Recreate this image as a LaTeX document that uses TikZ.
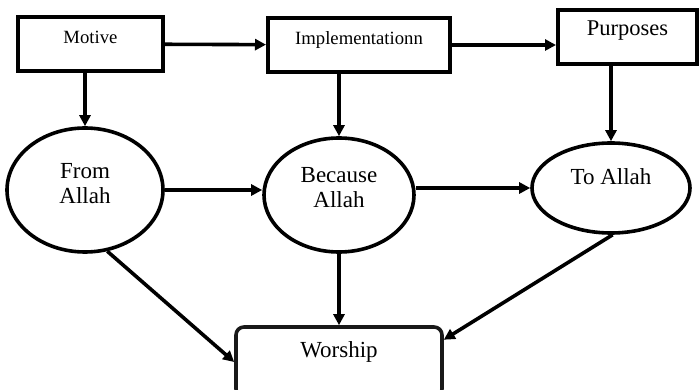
\documentclass[tikz,border=0pt]{standalone}
\usepackage{fontspec}
\setmainfont{Liberation Serif}
\usetikzlibrary{shapes.geometric,arrows.meta}

\begin{document}
\begin{tikzpicture}[x=1pt,y=-1pt,>={Triangle[length=11pt,width=11pt]}]
    \tikzstyle{box}=[rectangle,draw,line width=4pt,inner sep=0pt,minimum height=54pt]
    \tikzstyle{oval}=[ellipse,draw,line width=3.6pt,inner sep=0pt,align=center,font=\fontsize{23}{25}\selectfont]
    \tikzstyle{flow}=[line width=3.6pt]
    \useasboundingbox (0,0) rectangle (699,390);
    \node (motive) at (90.5,44) [box,minimum width=145pt,font=\fontsize{18.7}{22}\selectfont,text depth=14pt] {Motive};
    \node (impl) at (359,45) [box,minimum width=182pt,font=\fontsize{18.7}{22}\selectfont,text depth=14pt] {Implementationn};
    \node (purp) at (627.5,37) [box,minimum width=139pt,font=\fontsize{22.5}{25}\selectfont,text depth=17pt] {Purposes};
    \node (fromallah) at (85,190) [oval,minimum width=156pt,minimum height=124pt,text depth=14pt] {From\\Allah};
    \node (because) at (339,195) [oval,minimum width=150pt,minimum height=114pt,text depth=16pt] {Because\\Allah};
    \node (toallah) at (611,188) [oval,minimum width=158pt,minimum height=90pt,text depth=22pt] {To Allah};
    \node (worship) at (339,362) [rectangle,draw=black!90,line width=3.6pt,rounded corners=8pt,inner sep=0pt,minimum width=206pt,minimum height=70pt,font=\fontsize{23}{25}\selectfont,text depth=25pt] {Worship};
    \draw [flow,->] (motive) -- (impl);
    \draw [flow,->] (impl.east) -- (impl.east -| purp.west);
    \draw [flow,->] (fromallah.north |- motive.south) -- (fromallah.north);
    \draw [flow,->] (because.north |- impl.south) -- (because.north);
    \draw [flow,->] (toallah.north |- purp.south) -- (toallah.north);
    \draw [flow,->] (fromallah.east) -- (fromallah.east -| because.west);
    \draw [flow,->] (because.east |- toallah.west) -- (toallah.west);
    \draw [flow,->] (fromallah.290) -- (worship.west);
    \draw [flow,->] (because.south) -- (because.south |- worship.north);
    \draw [flow,->] (toallah.272) -- (worship.12);
\end{tikzpicture}
\end{document}
